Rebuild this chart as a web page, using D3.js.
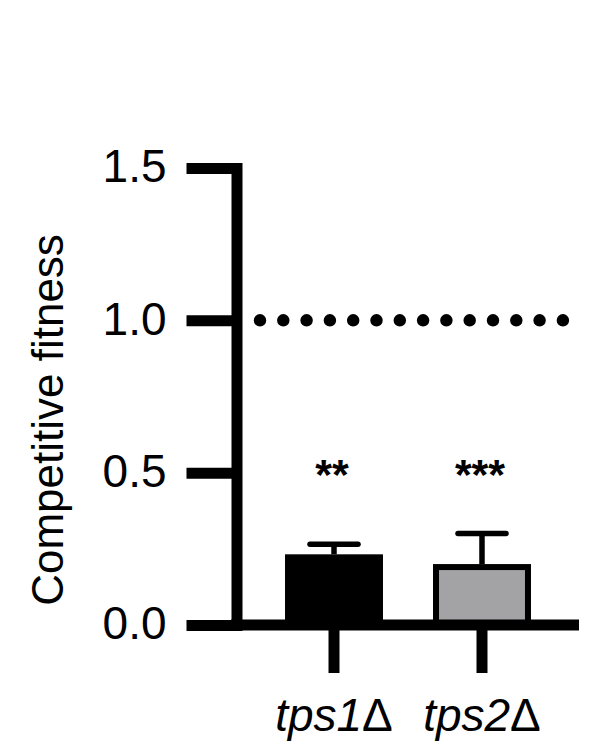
<!DOCTYPE html>
<html>
<head>
<meta charset="utf-8">
<script src="https://cdn.jsdelivr.net/npm/d3@7"></script>
<style>
  html, body { margin: 0; padding: 0; background: #fff; }
  svg { display: block; font-family: "Liberation Sans", Arial, sans-serif; }
</style>
</head>
<body>
<div id="chart"></div>
<script>
  "use strict";

  const categories = ["tps1Δ", "tps2Δ"];
  const means = [0.232, 0.2];
  const errors = [0.033, 0.1];
  const stars = ["**", "***"];
  const yTicks = [0, 0.5, 1.0, 1.5];
  const reference = 1.0;

  const fills = new Map([["tps1Δ", "#000"], ["tps2Δ", "#a3a3a5"]]);

  const data = categories.map((name, i) => ({ name, mean: means[i], err: errors[i], star: stars[i] }));

  const width = 614, height = 747;
  const svg = d3.select("#chart").append("svg")
    .attr("width", width)
    .attr("height", height);

  const y = d3.scaleLinear().domain([0, 1.5]).range([625, 168]);
  const x = d3.scaleBand().domain(categories).range([235, 581]).paddingInner(0.338).paddingOuter(0.338);
  const axisX = 236.5;

  // reference line at 1.0
  svg.append("line")
    .attr("x1", axisX + 23.5)
    .attr("x2", axisX + 23.5 + 13 * 23.3)
    .attr("y1", y(reference))
    .attr("y2", y(reference))
    .attr("stroke", "#000")
    .attr("stroke-width", 12.5)
    .attr("stroke-linecap", "round")
    .attr("stroke-dasharray", "0 23.3");

  // bars
  const bars = svg.append("g").selectAll("g").data(data).join("g");

  bars.append("rect")
    .attr("x", (d) => x(d.name) + 3)
    .attr("y", (d) => y(d.mean) + 3)
    .attr("width", x.bandwidth() - 6)
    .attr("height", (d) => y(0) - y(d.mean) - 3)
    .attr("fill", (d) => fills.get(d.name))
    .attr("stroke", "#000")
    .attr("stroke-width", 6);

  // error bars (upper only)
  bars.append("line")
    .attr("x1", (d) => x(d.name) + x.bandwidth() / 2)
    .attr("x2", (d) => x(d.name) + x.bandwidth() / 2)
    .attr("y1", (d) => y(d.mean))
    .attr("y2", (d) => y(d.mean + d.err))
    .attr("stroke", "#000")
    .attr("stroke-width", 5.5);

  bars.append("line")
    .attr("x1", (d) => x(d.name) + x.bandwidth() / 2 - 24)
    .attr("x2", (d) => x(d.name) + x.bandwidth() / 2 + 24)
    .attr("y1", (d) => y(d.mean + d.err))
    .attr("y2", (d) => y(d.mean + d.err))
    .attr("stroke", "#000")
    .attr("stroke-width", 5.5)
    .attr("stroke-linecap", "round");

  // significance stars
  bars.append("text")
    .attr("x", (d) => x(d.name) + x.bandwidth() / 2 - 2)
    .attr("y", 489)
    .attr("text-anchor", "middle")
    .attr("font-size", 43)
    .attr("font-weight", "bold")
    .text((d) => d.star);

  // y axis
  const yAxis = svg.append("g")
    .attr("transform", `translate(${axisX},0)`)
    .call(d3.axisLeft(y).tickValues(yTicks).tickFormat(d3.format(".1f")).tickSize(50).tickSizeOuter(0).tickPadding(20));

  yAxis.select(".domain")
    .attr("stroke-width", 11)
    .attr("stroke-linecap", "square");
  yAxis.selectAll(".tick line").attr("stroke-width", 11);
  yAxis.selectAll(".tick text")
    .attr("font-size", 46)
    .attr("font-family", "\"Liberation Sans\", Arial, sans-serif")
    .attr("fill", "#000")
    .attr("dy", "0.3em");

  // x axis
  const xAxis = svg.append("g")
    .attr("transform", `translate(0,${y(0)})`)
    .call(d3.axisBottom(x).tickSize(48).tickSizeOuter(0));

  xAxis.select(".domain")
    .attr("stroke-width", 11)
    .attr("d", `M${axisX - 5.5},0H579`);
  xAxis.selectAll(".tick line").attr("stroke-width", 11);
  xAxis.selectAll(".tick text")
    .attr("font-size", 46)
    .attr("font-family", "\"Liberation Sans\", Arial, sans-serif")
    .attr("fill", "#000")
    .attr("y", 106)
    .attr("dy", 0)
    .each(function (name) {
      const label = d3.select(this).text(null);
      label.append("tspan").attr("font-style", "italic").text(name.slice(0, -1));
      label.append("tspan").text(name.slice(-1));
    });

  // y axis title
  svg.append("text")
    .attr("transform", "rotate(-90)")
    .attr("x", -420)
    .attr("y", 63)
    .attr("text-anchor", "middle")
    .attr("font-size", 44)
    .text("Competitive fitness");
</script>
</body>
</html>
